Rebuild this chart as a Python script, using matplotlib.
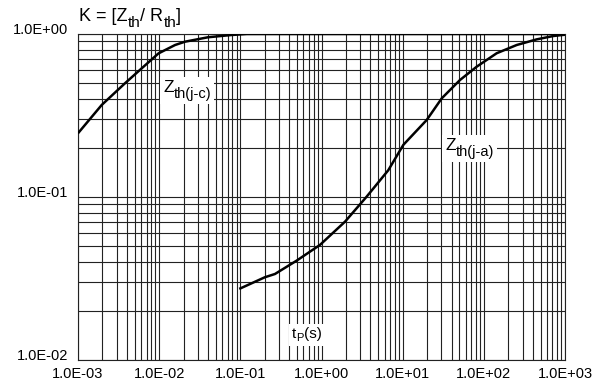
import matplotlib
matplotlib.use("Agg")
import matplotlib.pyplot as plt
import matplotlib.transforms as mtransforms
from matplotlib.patches import Rectangle
from matplotlib.ticker import LogLocator, NullFormatter, FixedLocator

plt.rcParams['font.family'] = ['Liberation Sans', 'DejaVu Sans']

# Data
t_jc = [1e-3, 1.96e-3, 3.8e-3, 6.1e-3, 9.8e-3, 1.57e-2, 2.08e-2, 4.0e-2, 7.8e-2, 1.2e-1, 1e3]
k_jc = [0.246, 0.367, 0.499, 0.616, 0.76, 0.856, 0.897, 0.955, 0.986, 1.0, 1.0]

t_ja = [0.097, 0.201, 0.267, 0.494, 0.957, 1.95, 3.6, 6.65, 10.2, 19.8, 30.3, 50.8, 81.6,
        144, 254, 448, 718, 1000]
k_ja = [0.0273, 0.0322, 0.0337, 0.0407, 0.0508, 0.0706, 0.1005, 0.146, 0.209, 0.297, 0.403,
        0.522, 0.63, 0.762, 0.856, 0.927, 0.972, 0.99]

x_ticks = [1e-3, 1e-2, 1e-1, 1e0, 1e1, 1e2, 1e3]
x_labels = ['1.0E-03', '1.0E-02', '1.0E-01', '1.0E+00', '1.0E+01', '1.0E+02', '1.0E+03']
y_ticks = [1e-2, 1e-1, 1e0]
y_labels = ['1.0E-02', '1.0E-01', '1.0E+00']

W, H = 603, 383
fig = plt.figure(figsize=(W / 100, H / 100), dpi=100)
ax = fig.add_axes([78 / W, 1 - 360 / H, (565 - 78) / W, (360 - 34) / H])
ax.set_xscale('log')
ax.set_yscale('log')
ax.set_xlim(1e-3, 1e3)
ax.set_ylim(1e-2, 1e0)

ax.xaxis.set_major_locator(FixedLocator(x_ticks))
ax.set_xticklabels(x_labels)
ax.yaxis.set_major_locator(FixedLocator(y_ticks))
ax.set_yticklabels(y_labels)
ax.xaxis.set_minor_locator(LogLocator(base=10, subs=range(2, 10), numticks=20))
ax.yaxis.set_minor_locator(LogLocator(base=10, subs=range(2, 10), numticks=20))
ax.xaxis.set_minor_formatter(NullFormatter())
ax.yaxis.set_minor_formatter(NullFormatter())

ax.grid(True, which='both', color='#222222', linewidth=0.8)
ax.set_axisbelow(True)
ax.tick_params(which='both', length=0, labelsize=10.5)
ax.tick_params(axis='x', pad=5)
ax.tick_params(axis='y', pad=7)
for s in ax.spines.values():
    s.set_color('#222222')
    s.set_linewidth(0.8)

offset = mtransforms.ScaledTranslation(0, 5.5 / 100, fig.dpi_scale_trans)
for lab in ax.get_yticklabels():
    lab.set_transform(lab.get_transform() + offset)

ax.plot(t_jc, k_jc, color='black', linewidth=1.8, solid_capstyle='butt', zorder=3)
ax.plot(t_ja, k_ja, color='black', linewidth=1.8, solid_capstyle='butt', zorder=3)

renderer = fig.canvas.get_renderer()


def rich(x0, base, parts, box=None):
    """Place text pieces side by side; x0/base in pixels from top-left."""
    x = x0
    arts = []
    for s, size, dy in parts:
        t = fig.text(x / W, 1 - (base + dy) / H, s, fontsize=size,
                     ha='left', va='baseline', zorder=5)
        bb = t.get_window_extent(renderer)
        x = bb.x1
        arts.append(bb)
    if box is not None:
        x1 = min(b.x0 for b in arts) - box
        x2 = max(b.x1 for b in arts) + box
        y1 = min(b.y0 for b in arts) - box
        y2 = max(b.y1 for b in arts) + box
        r = Rectangle((x1 / W, y1 / H), (x2 - x1) / W, (y2 - y1) / H,
                      transform=fig.transFigure, facecolor='white',
                      edgecolor='none', zorder=1)
        fig.add_artist(r)


rich(79, 21, [('K = [Z', 13, 0), ('th', 11, 6), ('/ R', 13, 0),
              ('th', 11, 6), (']', 13, 0)])
rich(163, 92, [('Z', 12.5, 0), ('th(j-c)', 10.5, 6)], box=3)
rich(445, 150, [('Z', 12.5, 0), ('th(j-a)', 10.5, 6)], box=3)
rich(292, 338, [('t', 11, 0), ('P', 8, 3), ('(s)', 11, 0)], box=3)

fig.savefig('out.png', dpi=100)
